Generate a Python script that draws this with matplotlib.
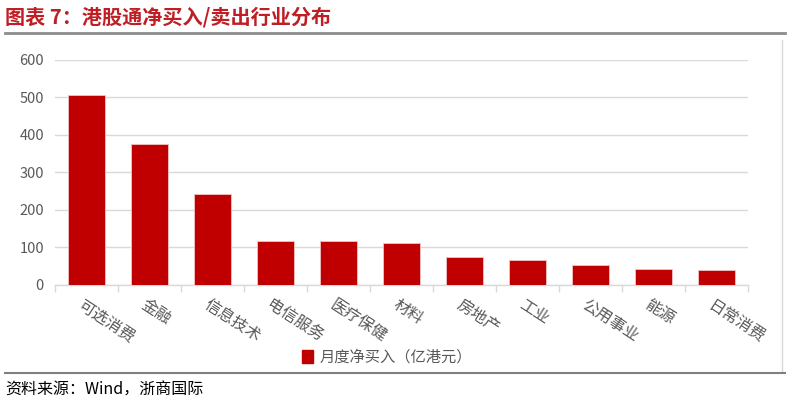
import matplotlib
matplotlib.use("Agg")
import matplotlib.pyplot as plt
from matplotlib.lines import Line2D
from matplotlib.patches import Patch
import numpy as np

plt.rcParams['font.family'] = ['Noto Sans CJK SC', 'DejaVu Sans']

categories = ["可选消费", "金融", "信息技术", "电信服务", "医疗保健", "材料",
              "房地产", "工业", "公用事业", "能源", "日常消费"]
values = [505, 374, 241, 117, 116, 113, 74, 66, 52, 43, 41]
yticks = [0, 100, 200, 300, 400, 500, 600]
series_name = "月度净买入（亿港元）"
title = "图表 7：港股通净买入/卖出行业分布"
source = "资料来源：Wind，浙商国际"

W, H = 790, 404
fig = plt.figure(figsize=(W/100, H/100), dpi=100)

def fx(px): return px / W
def fy(py): return 1 - py / H

ax = fig.add_axes([fx(55), fy(285), fx(748) - fx(55), fy(59.5) - fy(285)])
x = np.arange(len(categories))
ax.bar(x, values, width=0.58, color="#C00000", edgecolor="#F2C4C4", linewidth=0.6, zorder=3)
ax.set_xlim(-0.5, len(categories) - 0.5)
ax.set_ylim(0, 600)
ax.set_yticks(yticks)
ax.set_yticklabels([str(v) for v in yticks], color="#595959", fontsize=10.5)
ax.yaxis.grid(True, color="#D9D9D9", linewidth=1.0, zorder=0)
ax.tick_params(axis='y', length=0, pad=8)
for s in ["top", "right", "left"]:
    ax.spines[s].set_visible(False)
ax.spines["bottom"].set_color("#D9D9D9")
ax.spines["bottom"].set_linewidth(1.0)

# category boundary ticks
ax.set_xticks(np.arange(-0.5, len(categories) + 0.5, 1.0), minor=False)
ax.set_xticklabels([])
ax.tick_params(axis='x', length=5, color="#D9D9D9", width=1.0)

for i, c in enumerate(categories):
    ax.text(i - 0.04, -30, c, rotation=-33, rotation_mode='anchor', ha='left', va='top',
            fontsize=11.5, color="#595959", transform=ax.transData)

# legend
fig.legend(handles=[Patch(facecolor="#C00000", edgecolor="#C00000")], labels=[series_name],
           loc="center", bbox_to_anchor=(fx(387), fy(357)), frameon=False,
           fontsize=11, labelcolor="#595959", handlelength=0.7, handleheight=0.9,
           handletextpad=0.4)

# title
fig.text(fx(5), fy(17), title, fontsize=14.5, fontweight='bold', color="#BE1E24",
         ha='left', va='center')
fig.add_artist(Line2D([fx(5), fx(785)], [fy(33), fy(33)], color="#8C8C8C", linewidth=2.0))
# right frame line
fig.add_artist(Line2D([fx(782), fx(782)], [fy(40), fy(372)], color="#D9D9D9", linewidth=1.0))
# bottom line
fig.add_artist(Line2D([fx(5), fx(785)], [fy(373), fy(373)], color="#7F7F7F", linewidth=1.5))
# source
fig.text(fx(5), fy(390), source, fontsize=11.5, color="#000000", ha='left', va='center')

fig.savefig("out.png", dpi=100)
